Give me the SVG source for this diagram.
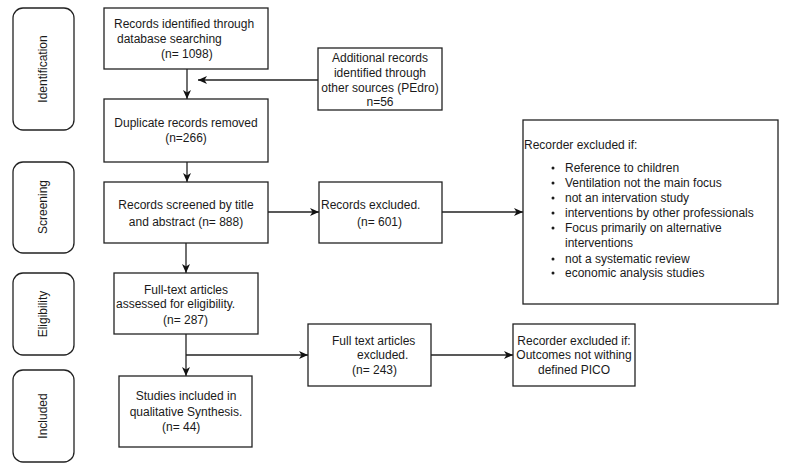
<svg xmlns="http://www.w3.org/2000/svg" width="791" height="468" viewBox="0 0 791 468">
<style>
text{font-family:"Liberation Sans",Arial,sans-serif;font-size:12px;fill:#1a1a1a}
.box{fill:#fff;stroke:#222;stroke-width:1.3}
.side{fill:#fff;stroke:#222;stroke-width:1.3}
.c{text-anchor:middle}
.ln{fill:none;stroke:#222;stroke-width:1.3}
</style>
<defs>
<marker id="ah" markerUnits="userSpaceOnUse" markerWidth="10" markerHeight="10" viewBox="0 0 10 10" refX="9" refY="5" orient="auto">
<path d="M0,1 L9,5 L0,9 L2.5,5 z" fill="#111"/>
</marker>
</defs>
<rect width="791" height="468" fill="#fff"/>

<g id="phase-identification"><rect class="side" x="13" y="8" width="61" height="122" rx="10"/><text class="c" transform="translate(47,69) rotate(-90)">Identification</text></g>
<g id="phase-screening"><rect class="side" x="13" y="162" width="61" height="91" rx="10"/><text class="c" transform="translate(47,207) rotate(-90)">Screening</text></g>
<g id="phase-eligibility"><rect class="side" x="13" y="273" width="61" height="82" rx="10"/><text class="c" transform="translate(47,314) rotate(-90)">Eligibility</text></g>
<g id="phase-included"><rect class="side" x="13" y="370" width="61" height="92" rx="10"/><text class="c" transform="translate(47,416) rotate(-90)">Included</text></g>

<g id="connectors">
<line class="ln" x1="187" y1="69" x2="187" y2="99" marker-end="url(#ah)"/>
<line class="ln" x1="318" y1="80" x2="198" y2="80" marker-end="url(#ah)"/>
<line class="ln" x1="187" y1="162" x2="187" y2="182" marker-end="url(#ah)"/>
<line class="ln" x1="268" y1="212" x2="319" y2="212" marker-end="url(#ah)"/>
<line class="ln" x1="442" y1="212" x2="523" y2="212" marker-end="url(#ah)"/>
<line class="ln" x1="186" y1="243" x2="186" y2="273" marker-end="url(#ah)"/>
<line class="ln" x1="186" y1="334" x2="186" y2="376" marker-end="url(#ah)"/>
<line class="ln" x1="186" y1="355" x2="308" y2="355" marker-end="url(#ah)"/>
<line class="ln" x1="431" y1="355" x2="513" y2="355" marker-end="url(#ah)"/>
</g>

<g id="records-identified"><rect class="box" x="104" y="8" width="164" height="61"/>
<text x="114" y="28">Records identified through</text>
<text x="117" y="43">database searching</text>
<text x="161" y="58">(n= 1098)</text></g>

<g id="additional-records"><rect class="box" x="318" y="48" width="124" height="62"/>
<text class="c" x="380" y="62">Additional records</text>
<text class="c" x="380" y="77">identified through</text>
<text class="c" x="380" y="92">other sources (PEdro)</text>
<text class="c" x="380" y="106">n=56</text></g>

<g id="duplicates-removed"><rect class="box" x="104" y="99" width="164" height="63"/>
<text class="c" x="186" y="127">Duplicate records removed</text>
<text class="c" x="186" y="142">(n=266)</text></g>

<g id="records-screened"><rect class="box" x="104" y="182" width="164" height="61"/>
<text class="c" x="186" y="209">Records screened by title</text>
<text class="c" x="186" y="226">and abstract (n= 888)</text></g>

<g id="records-excluded"><rect class="box" x="319" y="182" width="123" height="61"/>
<text x="321" y="209">Records excluded.</text>
<text x="357" y="226">(n= 601)</text></g>

<g id="exclusion-criteria"><rect class="box" x="523" y="120" width="255" height="184"/>
<text x="524" y="149">Recorder excluded if:</text>
<g fill="#1a1a1a">
<circle cx="553" cy="168" r="1.5"/><circle cx="553" cy="183" r="1.5"/><circle cx="553" cy="198" r="1.5"/><circle cx="553" cy="213" r="1.5"/><circle cx="553" cy="228" r="1.5"/><circle cx="553" cy="259" r="1.5"/><circle cx="553" cy="273" r="1.5"/>
</g>
<text x="565" y="172">Reference to children</text>
<text x="565" y="187">Ventilation not the main focus</text>
<text x="565" y="202">not an intervation study</text>
<text x="565" y="217">interventions by other professionals</text>
<text x="565" y="232">Focus primarily on alternative</text>
<text x="565" y="247">interventions</text>
<text x="565" y="263">not a systematic review</text>
<text x="565" y="277">economic analysis studies</text></g>

<g id="fulltext-assessed"><rect class="box" x="114" y="273" width="144" height="61"/>
<text class="c" x="186" y="294">Full-text articles</text>
<text x="116" y="308">assessed for eligibility.</text>
<text x="163" y="324">(n= 287)</text></g>

<g id="studies-included"><rect class="box" x="119" y="376" width="133" height="71"/>
<text class="c" x="186" y="400">Studies included in</text>
<text class="c" x="186" y="416">qualitative Synthesis.</text>
<text x="162" y="431">(n= 44)</text></g>

<g id="fulltext-excluded"><rect class="box" x="308" y="324" width="123" height="62"/>
<text x="332" y="345">Full text articles</text>
<text x="357" y="359">excluded.</text>
<text x="352" y="374">(n= 243)</text></g>

<g id="pico-excluded"><rect class="box" x="513" y="324" width="122" height="62"/>
<text class="c" x="574" y="345">Recorder excluded if:</text>
<text class="c" x="574" y="359">Outcomes not withing</text>
<text class="c" x="574" y="374">defined PICO</text></g>
</svg>
